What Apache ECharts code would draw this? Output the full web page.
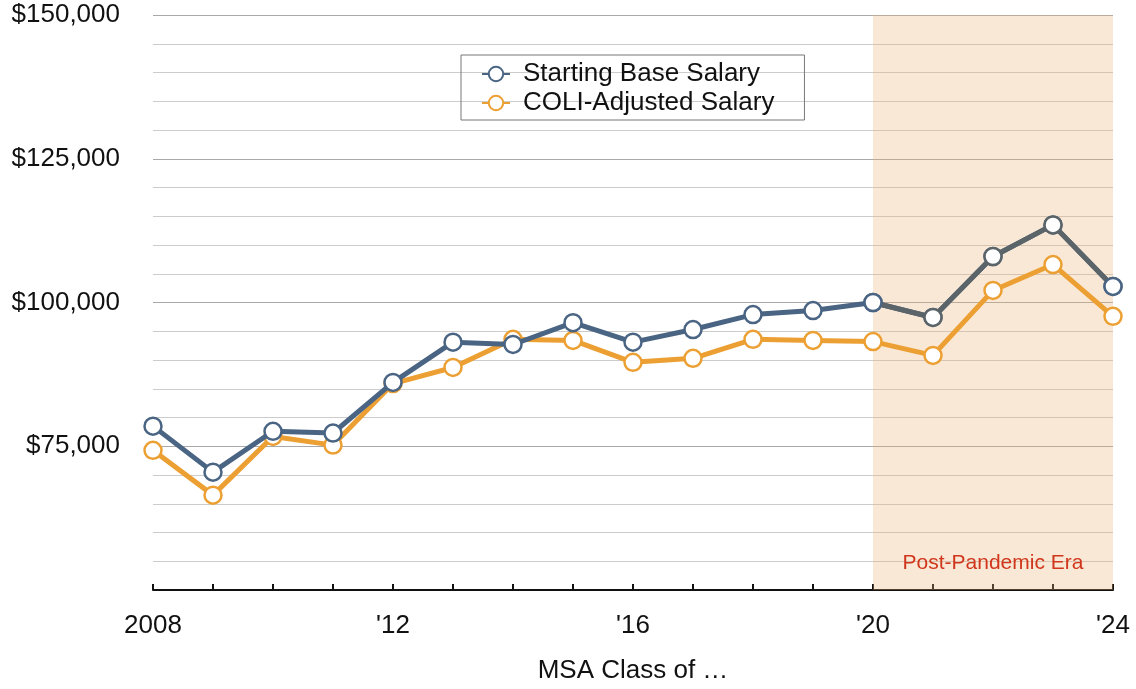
<!DOCTYPE html>
<html>
<head>
<meta charset="utf-8">
<script src="https://cdn.jsdelivr.net/npm/echarts@6/dist/echarts.min.js"></script>
<style>
  html, body { margin: 0; padding: 0; background: #fff; }
  #chart { width: 1136px; height: 689px; }
</style>
</head>
<body>
<div id="chart"></div>
<script>
const years = [2008, 2009, 2010, 2011, 2012, 2013, 2014, 2015, 2016, 2017, 2018, 2019, 2020, 2021, 2022, 2023, 2024]
const baseSalary = [78500, 70500, 77600, 77300, 86100, 93100, 92700, 96500, 93100, 95300, 97900, 98600, 100000, 97400, 108000, 113500, 102800]
const coliSalary = [74300, 66500, 76700, 75200, 85900, 88700, 93600, 93400, 89600, 90300, 93600, 93400, 93200, 90800, 102100, 106600, 97600]
const eraLabel = 'Post-Pandemic Era'
const eraRange = [2020, 2024]

const font = '"Liberation Sans", Arial, Helvetica, sans-serif'
const blue = '#4a6583'
const grayLine = '#5b6468'
const orange = '#eca033'

const chart = echarts.init(document.getElementById('chart'))

// pair each year with its value
const toPairs = (vals) => years.map((y, i) => [y, vals[i]])

// part of the base line inside the shaded era, drawn gray on top
const eraPart = toPairs(baseSalary)
  .filter((p) => p[0] >= eraRange[0] && p[0] <= eraRange[1])
  .map((p) => {
    const edge = p[0] === eraRange[0] || p[0] === eraRange[1]
    return { value: p, itemStyle: { borderColor: edge ? blue : grayLine } }
  })

const option = {
  animation: false,
  grid: { left: 153, right: 23, top: 15, bottom: 99 },
  legend: {
    data: ['Starting Base Salary', 'COLI-Adjusted Salary'],
    orient: 'vertical',
    left: 461,
    top: 55,
    borderColor: '#777',
    borderWidth: 1,
    padding: [6, 30, 4, 20],
    itemGap: 3,
    itemWidth: 28,
    itemHeight: 18,
    textStyle: { fontFamily: font, fontSize: 26, color: '#111', padding: [0, 0, 0, 8] },
  },
  xAxis: {
    type: 'value',
    min: 2008,
    max: 2024,
    interval: 1,
    name: 'MSA Class of …',
    nameLocation: 'middle',
    nameGap: 68,
    nameTextStyle: { fontFamily: font, fontSize: 26, color: '#111' },
    axisLine: { lineStyle: { color: '#111', width: 2 } },
    axisTick: { inside: true, length: 6, lineStyle: { color: '#111', width: 2 } },
    axisLabel: {
      margin: 23,
      fontFamily: font,
      fontSize: 26,
      color: '#111',
      formatter: (v) => (v === 2008 ? '2008' : v % 4 === 0 ? "'" + String(v).slice(2) : ''),
    },
    splitLine: { show: false },
  },
  yAxis: {
    type: 'value',
    min: 50000,
    max: 150000,
    interval: 5000,
    axisLine: { show: false },
    axisTick: { show: false },
    axisLabel: {
      margin: 33,
      fontFamily: font,
      fontSize: 26,
      color: '#111',
      formatter: (v) => (v > 50000 && v % 25000 === 0 ? '$' + v.toLocaleString('en-US') : ''),
    },
    splitLine: {
      lineStyle: { color: ['#a8a8a8', '#cccccc', '#cccccc', '#cccccc', '#cccccc'], width: 1 },
    },
  },
  series: [
    {
      name: 'Starting Base Salary',
      type: 'line',
      z: 3,
      data: toPairs(baseSalary),
      symbol: 'circle',
      symbolSize: 17,
      lineStyle: { width: 5, color: blue },
      itemStyle: { color: '#fff', borderColor: blue, borderWidth: 2.5 },
    },
    {
      name: 'base-era',
      type: 'line',
      z: 4,
      data: eraPart,
      symbol: 'circle',
      symbolSize: 17,
      lineStyle: { width: 5, color: grayLine },
      itemStyle: { color: '#fff', borderColor: grayLine, borderWidth: 2.5 },
    },
    {
      name: 'COLI-Adjusted Salary',
      type: 'line',
      z: 2,
      data: toPairs(coliSalary),
      symbol: 'circle',
      symbolSize: 17,
      lineStyle: { width: 5, color: orange },
      itemStyle: { color: '#fff', borderColor: orange, borderWidth: 2.5 },
    },
    {
      // shaded era behind the lines
      name: 'era',
      type: 'line',
      z: 1,
      data: [],
      markArea: {
        silent: true,
        itemStyle: { color: 'rgba(240,180,120,0.3)' },
        label: {
          show: true,
          position: 'insideBottom',
          distance: 16,
          fontFamily: font,
          fontSize: 21,
          color: '#d0361c',
        },
        data: [[{ name: eraLabel, xAxis: eraRange[0] }, { xAxis: eraRange[1] }]],
      },
    },
  ],
}

chart.setOption(option)
</script>
</body>
</html>
